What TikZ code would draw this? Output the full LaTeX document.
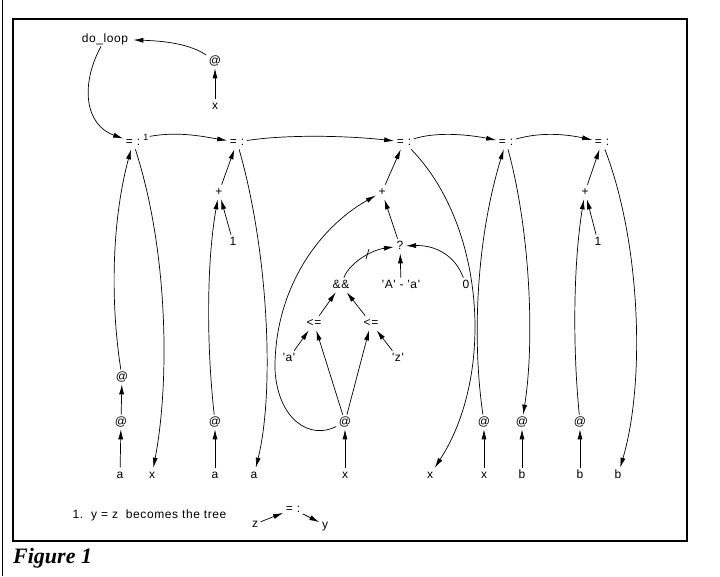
\documentclass[tikz,border=0pt]{standalone}
\usepackage{fontspec}
\setmainfont{Liberation Sans}[LetterSpace=5,Ligatures=TeXOff]
\newfontfamily\capfont{Liberation Serif}
\usetikzlibrary{arrows.meta}
\begin{document}
\begin{tikzpicture}[x=1pt,y=-1pt,
  lbl/.style={inner sep=2.5pt, font=\fontsize{12}{14}\selectfont, text height=1.5ex, text depth=.25ex},
  sup/.style={inner sep=1pt, font=\fontsize{9}{10}\selectfont},
  arr/.style={-{Latex[length=10pt,width=5pt]}, line width=0.7pt},
  ln/.style={line width=0.7pt},
  frame/.style={line width=1.4pt},
  edge/.style={line width=0.8pt}
  ]
\useasboundingbox (0,0) rectangle (720,576);
\draw[frame] (13,19) rectangle (687,541);
\draw[edge] (2,0) -- (2,576);

% top
\node[lbl, inner xsep=5pt] (doloop) at (105,39) {do\_loop};
\node[lbl] (at0) at (215,61) {@};
\node[lbl] (x0) at (215,106) {x};

% row of =:
\node[lbl] (e1) at (133,142) {= :};
\node[sup] (s1) at (146,137) {1};
\node[lbl] (e2) at (237,142) {= :};
\node[lbl] (e3) at (404,142) {= :};
\node[lbl] (e4) at (506,142) {= :};
\node[lbl] (e5) at (602,142) {= :};

% column 1
\node[lbl] (a1) at (120,475) {a};
\node[lbl] (at1a) at (121,422) {@};
\node[lbl] (at1b) at (122,377) {@};
\node[lbl] (x1) at (152,475) {x};

% column 2
\node[lbl] (plus2) at (219,192) {+};
\node[lbl] (one2) at (233,242) {1};
\node[lbl] (at2) at (215,422) {@};
\node[lbl] (a2) at (215,475) {a};
\node[lbl] (a2b) at (254,475) {a};

% column 3
\node[lbl] (plus3) at (382,192) {+};
\node[lbl] (q) at (400,246) {?};
\node[lbl] (andand) at (341,285) {\&\&};
\node[lbl] (Aa) at (401,285) {'A' - 'a'};
\node[lbl] (zero) at (466,285) {0};
\node[lbl] (le1) at (314,323) {<=};
\node[lbl] (le2) at (371,323) {<=};
\node[lbl] (qa) at (289,358) {'a'};
\node[lbl] (qz) at (398,358) {'z'};
\node[lbl] (at3) at (345,422) {@};
\node[lbl] (x3) at (345,475) {x};
\node[lbl] (x3b) at (430,475) {x};

% column 4
\node[lbl] (at4a) at (484,422) {@};
\node[lbl] (x4) at (484,475) {x};
\node[lbl] (at4b) at (522,422) {@};
\node[lbl] (b4) at (522,475) {b};

% column 5
\node[lbl] (plus5) at (585,192) {+};
\node[lbl] (one5) at (598,242) {1};
\node[lbl] (at5) at (580,422) {@};
\node[lbl] (b5) at (580,475) {b};
\node[lbl] (b5b) at (618,475) {b};

% legend
\node[lbl, anchor=west] (leg) at (70,515) {1.\ \ y = z\ \ becomes the tree};
\node[lbl] (lz) at (255,524) {z};
\node[lbl] (leq) at (293,509) {= :};
\node[lbl] (ly) at (325,525) {y};
\node[anchor=base west, inner sep=0pt, font=\capfont\bfseries\itshape\fontsize{22}{24}\selectfont] (cap) at (13,563) {Figure 1};

% top connectors
\draw[arr] (x0) -- (at0);
\draw[arr] (at0) .. controls (190,44) and (165,41) .. (doloop);
\draw[arr] (doloop) .. controls (80,85) and (85,125) .. (e1);

% row connectors
\draw[arr] (s1) .. controls (180,131) and (205,137) .. (e2);
\draw[arr] (e2) .. controls (290,134) and (350,136) .. (e3);
\draw[arr] (e3) .. controls (435,132) and (465,134) .. (e4);
\draw[arr] (e4) .. controls (540,132) and (565,134) .. (e5);

% column 1
\draw[arr] (a1) -- (at1a);
\draw[arr] (at1a) -- (at1b);
\draw[arr] (at1b) .. controls (110,300) and (112,220) .. (e1);
\draw[arr] (e1) .. controls (168,250) and (170,380) .. (x1);

% column 2
\draw[arr] (plus2) -- (e2);
\draw[arr] (one2) -- (plus2);
\draw[arr] (a2) -- (at2);
\draw[arr] (at2) .. controls (206,340) and (207,260) .. (plus2);
\draw[arr] (e2) .. controls (268,250) and (275,390) .. (a2b);

% column 3
\draw[arr] (plus3) -- (e3);
\draw[arr] (q) -- (plus3);
\draw[arr] (Aa) -- (q);
\draw[arr] (zero) .. controls (455,255) and (435,245) .. (q);
\draw[arr] (andand) .. controls (350,262) and (372,250) .. (q);
\draw[ln] (366,259) -- (369,249);
\draw[arr] (le1) -- (andand);
\draw[arr] (le2) -- (andand);
\draw[arr] (qa) -- (le1);
\draw[arr] (at3) -- (le1);
\draw[arr] (at3) -- (le2);
\draw[arr] (qz) -- (le2);
\draw[arr] (x3) -- (at3);
\draw[arr] (at3) .. controls (310,440) and (278,420) .. (275,370)
  .. controls (274,290) and (318,228) .. (plus3);
\draw[arr] (e3) .. controls (485,225) and (495,375) .. (x3b);

% column 4
\draw[arr] (x4) -- (at4a);
\draw[arr] (b4) -- (at4b);
\draw[arr] (at4a) .. controls (472,340) and (476,240) .. (e4);
\draw[arr] (e4) .. controls (530,230) and (535,340) .. (at4b);

% column 5
\draw[arr] (plus5) -- (e5);
\draw[arr] (one5) -- (plus5);
\draw[arr] (b5) -- (at5);
\draw[arr] (at5) .. controls (572,340) and (574,260) .. (plus5);
\draw[arr] (e5) .. controls (640,240) and (646,380) .. (b5b);

% legend tree
\draw[arr] (lz) -- (leq);
\draw[arr] (leq) -- (ly);
\end{tikzpicture}
\end{document}
